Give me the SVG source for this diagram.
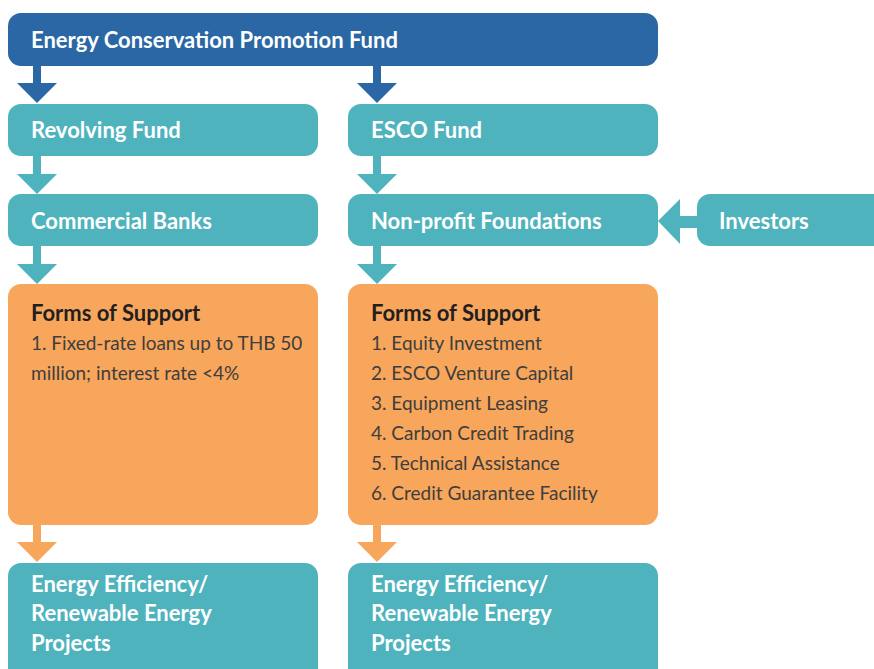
<svg xmlns="http://www.w3.org/2000/svg" width="874" height="669" viewBox="0 0 874 669">
<style>
.blue{fill:#2a67a4}
.teal{fill:#4fb3bd}
.orange{fill:#f7a65c}
.t{font-family:Lato,"Open Sans",sans-serif;font-weight:700;font-size:22px;fill:#ffffff}
.h{font-family:Lato,"Open Sans",sans-serif;font-weight:700;font-size:22px;fill:#231f20}
.r{font-family:Lato,"Open Sans",sans-serif;font-weight:400;font-size:19px;fill:#403e3d}
</style>
<rect width="874" height="669" fill="#ffffff"/>
<g id="connectors">
  <path class="blue" d="M33,66 H41 V83 H57 L37,103 L17,83 H33 Z"/>
  <path class="blue" d="M373,66 H381 V83 H397 L377,103 L357,83 H373 Z"/>
  <path class="teal" d="M33,156 H41 V174 H57 L37,194 L17,174 H33 Z"/>
  <path class="teal" d="M373,156 H381 V174 H397 L377,194 L357,174 H373 Z"/>
  <path class="teal" d="M33,246 H41 V264 H57 L37,284 L17,264 H33 Z"/>
  <path class="teal" d="M373,246 H381 V264 H397 L377,284 L357,264 H373 Z"/>
  <path class="orange" d="M33,525 H41 V542 H57 L37,562 L17,542 H33 Z"/>
  <path class="orange" d="M373,525 H381 V542 H397 L377,562 L357,542 H373 Z"/>
  <path class="teal" d="M697,216 V228 H680 V244 L658,221 L680,199 V216 Z"/>
</g>
<g id="ecpf">
  <rect class="blue" x="8" y="13" width="650" height="53" rx="13"/>
  <text class="t" x="31" y="48">Energy Conservation Promotion Fund</text>
</g>
<g id="revolving">
  <rect class="teal" x="8" y="104" width="310" height="52" rx="13"/>
  <text class="t" x="31" y="138">Revolving Fund</text>
</g>
<g id="esco">
  <rect class="teal" x="348" y="104" width="310" height="52" rx="13"/>
  <text class="t" x="371" y="138">ESCO Fund</text>
</g>
<g id="banks">
  <rect class="teal" x="8" y="194" width="310" height="52" rx="13"/>
  <text class="t" x="31" y="229">Commercial Banks</text>
</g>
<g id="nonprofit">
  <rect class="teal" x="348" y="194" width="310" height="52" rx="13"/>
  <text class="t" x="371" y="229">Non-profit Foundations</text>
</g>
<g id="investors">
  <rect class="teal" x="697" y="194" width="200" height="52" rx="13"/>
  <text class="t" x="719" y="229">Investors</text>
</g>
<g id="support-left">
  <rect class="orange" x="8" y="284" width="310" height="241" rx="13"/>
  <text class="h" x="31" y="321">Forms of Support</text>
  <text class="r" x="31" y="350">1. Fixed-rate loans up to THB 50</text>
  <text class="r" x="31" y="380">million; interest rate &lt;4%</text>
</g>
<g id="support-right">
  <rect class="orange" x="348" y="284" width="310" height="241" rx="13"/>
  <text class="h" x="371" y="321">Forms of Support</text>
  <text class="r" x="371" y="350">1. Equity Investment</text>
  <text class="r" x="371" y="380">2. ESCO Venture Capital</text>
  <text class="r" x="371" y="410">3. Equipment Leasing</text>
  <text class="r" x="371" y="440">4. Carbon Credit Trading</text>
  <text class="r" x="371" y="470">5. Technical Assistance</text>
  <text class="r" x="371" y="500">6. Credit Guarantee Facility</text>
</g>
<g id="projects-left">
  <rect class="teal" x="8" y="563" width="310" height="130" rx="13"/>
  <text class="t" x="31" y="592">Energy Efficiency/</text>
  <text class="t" x="31" y="621">Renewable Energy</text>
  <text class="t" x="31" y="651">Projects</text>
</g>
<g id="projects-right">
  <rect class="teal" x="348" y="563" width="310" height="130" rx="13"/>
  <text class="t" x="371" y="592">Energy Efficiency/</text>
  <text class="t" x="371" y="621">Renewable Energy</text>
  <text class="t" x="371" y="651">Projects</text>
</g>
</svg>
